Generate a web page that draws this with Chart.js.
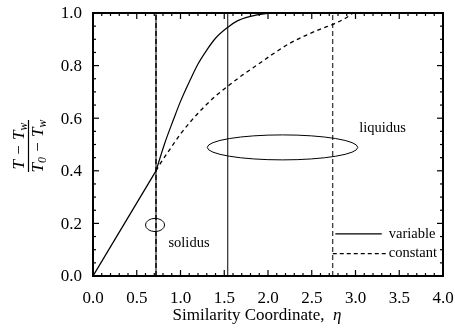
<!DOCTYPE html>
<html>
<head>
<meta charset="utf-8">
<script src="https://cdn.jsdelivr.net/npm/chart.js@4.4.0/dist/chart.umd.min.js"></script>
<style>
  html, body { margin: 0; padding: 0; background: #fff; }
  canvas { display: block; }
</style>
</head>
<body>
<canvas id="grafico" width="455" height="334"></canvas>
<script>
// regiao solida (comum as duas curvas, reta)
const etaSolid  = [0, 0.72];
const tempSolid = [0, 0.40];

// curva com propriedades variaveis (linha cheia), a partir do solidus
const etaVariable  = [0.72, 0.82, 0.92, 1.00, 1.11, 1.20, 1.30, 1.40, 1.55, 1.65, 1.80, 1.95, 2.10, 4.00];
const tempVariable = [0.40, 0.505, 0.595, 0.664, 0.745, 0.806, 0.859, 0.904, 0.948, 0.970, 0.987, 0.997, 1.00, 1.00];

// curva com propriedades constantes (tracejada), a partir do solidus
const etaConstant  = [0.72, 0.77, 0.90, 1.00, 1.11, 1.20, 1.30, 1.40, 1.55, 1.70, 1.90, 2.06, 2.25, 2.44, 2.60, 2.75, 2.90, 2.98, 4.00];
const tempConstant = [0.40, 0.428, 0.492, 0.540, 0.585, 0.619, 0.653, 0.684, 0.724, 0.762, 0.808, 0.845, 0.885, 0.916, 0.939, 0.958, 0.983, 1.00, 1.00];

// posicoes de solidus / liquidus (eta)
const interfaceVariable = [0.72, 1.54];
const interfaceConstant = [0.72, 2.74];

// eixos
const xTicks = [0.0, 0.5, 1.0, 1.5, 2.0, 2.5, 3.0, 3.5, 4.0];
const yTicks = [0.0, 0.2, 0.4, 0.6, 0.8, 1.0];
const xMinorStep = 0.1;
const yMinorStep = 0.05;

const serif = '"Liberation Serif", "Times New Roman", serif';

function pontos(xs, ys) {
    return xs.map((x, i) => ({ x: x, y: ys[i] }));
}

function linhaVertical(eta) {
    return [{ x: eta, y: 0 }, { x: eta, y: 1 }];
}

// moldura, ticks internos, rotulos dos eixos
const moldura = {
    id: 'moldura',
    afterDatasetsDraw(chart) {
        const g = chart.ctx;
        const sx = chart.scales.x, sy = chart.scales.y;
        const x0 = Math.round(sx.getPixelForValue(0)), x1 = Math.round(sx.getPixelForValue(4));
        const y1 = Math.round(sy.getPixelForValue(1)), y0 = Math.round(sy.getPixelForValue(0));
        g.save();
        g.fillStyle = '#000';

        // moldura
        g.fillRect(x0 - 1, y1 - 1, x1 - x0 + 2, 2);
        g.fillRect(x0 - 1, y0 - 1, x1 - x0 + 2, 2);
        g.fillRect(x0 - 1, y1 - 1, 2, y0 - y1 + 2);
        g.fillRect(x1 - 1, y1 - 1, 2, y0 - y1 + 2);

        // ticks x (baixo e cima)
        for (let i = 0; i <= 40; i++) {
            const v = i * xMinorStep;
            const major = xTicks.some(t => Math.abs(t - v) < 1e-6);
            const len = major ? 6 : 3;
            const px = sx.getPixelForValue(v);
            g.fillRect(px - 0.6, y0 - len, 1.2, len);
            g.fillRect(px - 0.6, y1, 1.2, len);
        }
        // ticks y (esquerda e direita)
        for (let i = 0; i <= 20; i++) {
            const v = i * yMinorStep;
            const major = yTicks.some(t => Math.abs(t - v) < 1e-6);
            const len = major ? 6 : 3;
            const py = sy.getPixelForValue(v);
            g.fillRect(x0, py - 0.6, len, 1.2);
            g.fillRect(x1 - len, py - 0.6, len, 1.2);
        }

        // rotulos dos ticks
        g.font = '17px ' + serif;
        g.textAlign = 'center';
        g.textBaseline = 'alphabetic';
        xTicks.forEach(v => g.fillText(v.toFixed(1), sx.getPixelForValue(v), y0 + 27));
        g.textAlign = 'right';
        g.textBaseline = 'middle';
        yTicks.forEach(v => g.fillText(v.toFixed(1), x0 - 11, sy.getPixelForValue(v) + 1));
        g.restore();
    }
};

// elipses, textos, legenda e titulos
const decoracao = {
    id: 'decoracao',
    afterDraw(chart) {
        const g = chart.ctx;
        const sx = chart.scales.x, sy = chart.scales.y;
        g.save();
        g.setLineDash([]);
        g.strokeStyle = '#000';
        g.fillStyle = '#000';

        // elipses
        g.lineWidth = 1;
        const elipses = [
            { eta: 0.709, temp: 0.194, rEta: 0.109, rTemp: 0.025 },
            { eta: 2.166, temp: 0.489, rEta: 0.86, rTemp: 0.0475 }
        ];
        elipses.forEach(e => {
            const cx = sx.getPixelForValue(e.eta), cy = sy.getPixelForValue(e.temp);
            const rx = Math.abs(sx.getPixelForValue(e.eta + e.rEta) - cx);
            const ry = Math.abs(sy.getPixelForValue(e.temp + e.rTemp) - cy);
            g.beginPath();
            g.ellipse(cx, cy, rx, ry, 0, 0, 2 * Math.PI);
            g.stroke();
        });

        // rotulos
        g.font = '14.5px ' + serif;
        g.textAlign = 'center';
        g.textBaseline = 'middle';
        g.fillText('liquidus', sx.getPixelForValue(3.31), sy.getPixelForValue(0.563));
        g.fillText('solidus', sx.getPixelForValue(1.097), sy.getPixelForValue(0.125));

        // legenda
        g.lineWidth = 1.2;
        g.beginPath();
        g.moveTo(sx.getPixelForValue(2.77), sy.getPixelForValue(0.16));
        g.lineTo(sx.getPixelForValue(3.30), sy.getPixelForValue(0.16));
        g.stroke();
        g.setLineDash([4, 3]);
        g.beginPath();
        g.moveTo(sx.getPixelForValue(2.74), sy.getPixelForValue(0.085));
        g.lineTo(sx.getPixelForValue(3.36), sy.getPixelForValue(0.085));
        g.stroke();
        g.setLineDash([]);
        g.textAlign = 'left';
        g.fillText('variable', sx.getPixelForValue(3.38), sy.getPixelForValue(0.16));
        g.fillText('constant', sx.getPixelForValue(3.38), sy.getPixelForValue(0.085));

        // titulo do eixo x
        g.font = '17px ' + serif;
        g.textBaseline = 'alphabetic';
        const t1 = 'Similarity Coordinate,  ';
        const w1 = g.measureText(t1).width;
        g.font = 'italic 17px ' + serif;
        const w2 = g.measureText('\u03b7').width;
        const xt = 257 - (w1 + w2) / 2;
        g.font = '17px ' + serif;
        g.fillText(t1, xt, 320);
        g.font = 'italic 17px ' + serif;
        g.fillText('\u03b7', xt + w1, 320);

        // titulo do eixo y: fracao (T - Tw)/(T0 - Tw)
        g.translate(28.5, 146);
        g.rotate(-Math.PI / 2);
        const largura = (lista, tam) => {
            let w = 0;
            lista.forEach(p => {
                g.font = 'italic ' + (p.sub ? tam * 0.7 : tam) + 'px ' + serif;
                w += g.measureText(p.t).width;
            });
            return w;
        };
        const escreve = (lista, tam, base) => {
            let x = -largura(lista, tam) / 2;
            lista.forEach(p => {
                g.font = 'italic ' + (p.sub ? tam * 0.7 : tam) + 'px ' + serif;
                g.fillText(p.t, x, base + (p.sub ? 3 : 0));
                x += g.measureText(p.t).width;
            });
        };
        const num = [{ t: 'T' }, { t: ' \u2212 ' }, { t: 'T' }, { t: 'w', sub: true }];
        const den = [{ t: 'T' }, { t: '0', sub: true }, { t: ' \u2212 ' }, { t: 'T' }, { t: 'w', sub: true }];
        escreve(num, 17, -5);
        escreve(den, 17, 14);
        g.lineWidth = 1.2;
        g.beginPath();
        g.moveTo(-26, 0); g.lineTo(26, 0);
        g.stroke();

        g.restore();
    }
};

const ctx = document.getElementById('grafico').getContext('2d');

new Chart(ctx, {
    type: 'line',
    data: {
        datasets: [
            {
                label: 'solidus variable',
                data: linhaVertical(interfaceVariable[0]),
                borderColor: '#000', borderWidth: 1, pointRadius: 0
            },
            {
                label: 'solidus constant',
                data: linhaVertical(interfaceConstant[0]),
                borderColor: '#000', borderWidth: 1.4, borderDash: [5, 3], pointRadius: 0
            },
            {
                label: 'liquidus variable',
                data: linhaVertical(interfaceVariable[1]),
                borderColor: '#000', borderWidth: 1, pointRadius: 0
            },
            {
                label: 'liquidus constant',
                data: linhaVertical(interfaceConstant[1]),
                borderColor: '#000', borderWidth: 1, borderDash: [5, 3], pointRadius: 0
            },
            {
                label: 'solid',
                data: pontos(etaSolid, tempSolid),
                borderColor: '#000', borderWidth: 1.3, pointRadius: 0
            },
            {
                label: 'variable',
                data: pontos(etaVariable, tempVariable),
                borderColor: '#000', borderWidth: 1.2, pointRadius: 0,
                cubicInterpolationMode: 'monotone'
            },
            {
                label: 'constant',
                data: pontos(etaConstant, tempConstant),
                borderColor: '#000', borderWidth: 1.3, borderDash: [4, 3.5], pointRadius: 0,
                cubicInterpolationMode: 'monotone'
            }
        ]
    },
    options: {
        responsive: false,
        animation: false,
        layout: { padding: { top: 13, right: 12, left: 0, bottom: 0 } },
        scales: {
            x: {
                type: 'linear',
                min: 0, max: 4,
                grid: { display: false, drawTicks: false },
                border: { display: false },
                afterBuildTicks: s => { s.ticks = xTicks.map(v => ({ value: v })); },
                afterFit: s => { s.height = 58; },
                ticks: { display: false }
            },
            y: {
                type: 'linear',
                min: 0, max: 1,
                grid: { display: false, drawTicks: false },
                border: { display: false },
                afterBuildTicks: s => { s.ticks = yTicks.map(v => ({ value: v })); },
                afterFit: s => { s.width = 93; },
                ticks: { display: false }
            }
        },
        plugins: {
            legend: { display: false },
            tooltip: { enabled: false }
        }
    },
    plugins: [moldura, decoracao]
});
</script>
</body>
</html>
